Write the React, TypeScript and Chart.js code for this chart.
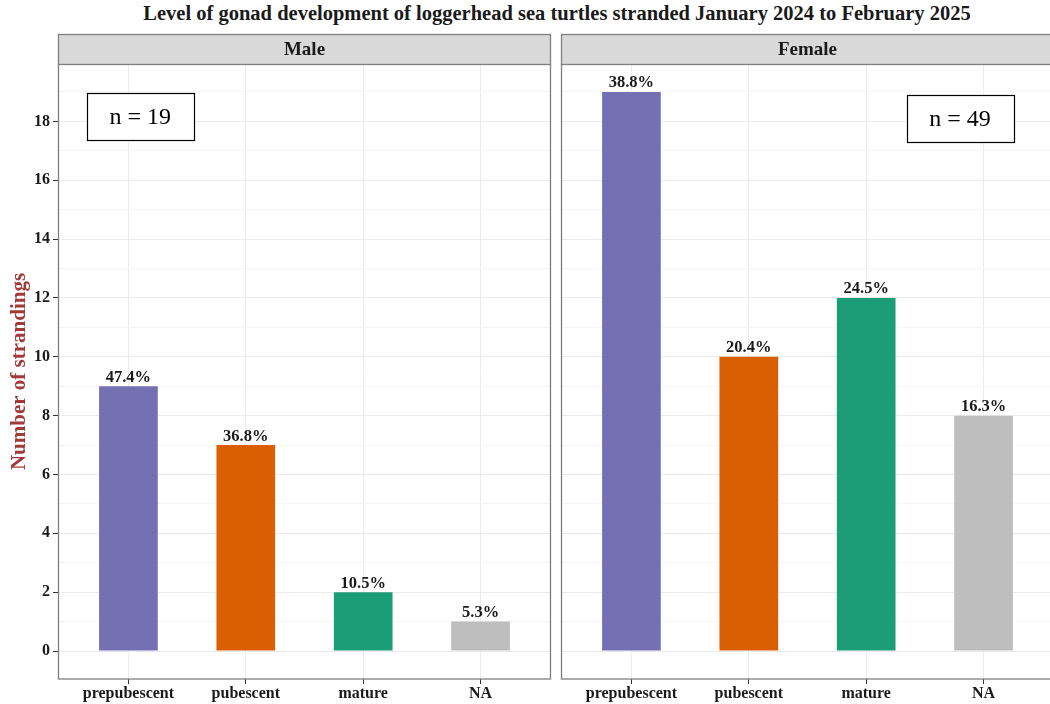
import React, { useEffect, useRef } from 'react';
import { Chart, registerables } from 'chart.js';

Chart.register(...registerables);

// Gonad development stages and stranding counts per sex
const stages = ['prepubescent', 'pubescent', 'mature', 'NA'];
const maleCounts = [9, 7, 2, 1];
const femaleCounts = [19, 10, 12, 8];
const stageColors = ['#7570B3', '#D95F02', '#1B9E77', '#BEBEBE'];

const FONT = "'Liberation Serif', 'Times New Roman', serif";
const TITLE = 'Level of gonad development of loggerhead sea turtles stranded January 2024 to February 2025';
const STRIP_TOP = 34;

type PanelCfg = {
  name: string;
  counts: number[];
  boxAt: [number, number];
  showY: boolean;
};

const pctLabels = (counts: number[]) => {
  const total = counts.reduce((s, v) => s + v, 0);
  return counts.map((c) => ((c / total) * 100).toFixed(1) + '%');
};

const facetPlugin = (cfg: PanelCfg) => {
  const labels = pctLabels(cfg.counts);
  const total = cfg.counts.reduce((s, v) => s + v, 0);
  return {
    id: 'facet',
    afterDatasetsDraw(chart: any) {
      const { ctx, scales } = chart;
      ctx.save();
      // percentage labels above bars
      ctx.font = `bold 16.5px ${FONT}`;
      ctx.fillStyle = '#1a1a1a';
      ctx.textAlign = 'center';
      ctx.textBaseline = 'bottom';
      chart.getDatasetMeta(0).data.forEach((bar: any, i: number) => {
        ctx.fillText(labels[i], bar.x, bar.y - 0.5);
      });
      // sample size box
      const cx = scales.x.getPixelForValue(cfg.boxAt[0]);
      const cy = scales.y.getPixelForValue(cfg.boxAt[1]);
      const bw = 107;
      const bh = 47;
      ctx.fillStyle = '#ffffff';
      ctx.fillRect(cx - bw / 2, cy - bh / 2, bw, bh);
      ctx.strokeStyle = '#000000';
      ctx.lineWidth = 1.2;
      ctx.strokeRect(Math.round(cx - bw / 2) + 0.5, Math.round(cy - bh / 2) + 0.5, bw, bh);
      ctx.fillStyle = '#000000';
      ctx.font = `24px ${FONT}`;
      ctx.textBaseline = 'middle';
      ctx.fillText(`n = ${total}`, cx, cy + 1);
      ctx.restore();
    },
    afterDraw(chart: any) {
      const { ctx, chartArea: a } = chart;
      ctx.save();
      // panel frame
      ctx.strokeStyle = '#7F7F7F';
      ctx.lineWidth = 1.3;
      ctx.strokeRect(a.left + 0.5, a.top, a.right - a.left - 1, a.bottom - a.top);
      // facet strip
      ctx.fillStyle = '#D9D9D9';
      ctx.fillRect(a.left, STRIP_TOP, a.right - a.left, a.top - STRIP_TOP);
      ctx.strokeRect(a.left + 0.5, STRIP_TOP + 0.5, a.right - a.left - 1, a.top - STRIP_TOP);
      ctx.fillStyle = '#1a1a1a';
      ctx.font = `bold 19px ${FONT}`;
      ctx.textAlign = 'center';
      ctx.textBaseline = 'middle';
      ctx.fillText(cfg.name, (a.left + a.right) / 2, (STRIP_TOP + a.top) / 2 + 1);
      ctx.restore();
    },
  };
};

function Panel({ cfg, left, width, padLeft, padRight }: { cfg: PanelCfg; left: number; width: number; padLeft: number; padRight: number }) {
  const ref = useRef<HTMLCanvasElement>(null);
  useEffect(() => {
    if (!ref.current) return;
    const chart = new Chart(ref.current, {
      type: 'bar',
      data: {
        datasets: [
          {
            data: cfg.counts.map((c, i) => ({ x: i + 1, y: c })),
            backgroundColor: stageColors,
            borderWidth: 0,
            barPercentage: 0.5,
            categoryPercentage: 1,
          },
        ],
      },
      options: {
        responsive: false,
        animation: false,
        layout: { padding: { top: 64, left: padLeft, right: padRight, bottom: 0 } },
        plugins: { legend: { display: false }, tooltip: { enabled: false }, title: { display: false } },
        scales: {
          x: {
            type: 'linear',
            min: 0.4,
            max: 4.6,
            offset: false,
            border: { display: false },
            grid: { offset: false, color: '#EBEBEB', lineWidth: 1, tickLength: 5, tickColor: '#333333' },
            ticks: {
              stepSize: 1,
              includeBounds: false,
              autoSkip: false,
              maxRotation: 0,
              padding: 0,
              color: '#1a1a1a',
              font: { family: FONT, size: 16, weight: 'bold' },
              callback: (v: any) => stages[Number(v) - 1] ?? '',
            },
            afterFit: (s: any) => {
              s.height = 25;
            },
          },
          y: {
            type: 'linear',
            min: -0.95,
            max: 19.95,
            border: { display: false },
            grid: {
              color: (c: any) => (Math.round(c.tick?.value ?? 0) % 2 === 0 ? '#EBEBEB' : '#F6F6F6'),
              tickColor: (c: any) => (Math.round(c.tick?.value ?? 0) % 2 === 0 ? '#333333' : 'rgba(0,0,0,0)'),
              drawTicks: cfg.showY,
              tickLength: 5,
            },
            ticks: {
              display: cfg.showY,
              stepSize: 1,
              includeBounds: false,
              autoSkip: false,
              padding: 3,
              color: '#1a1a1a',
              font: { family: FONT, size: 16, weight: 'bold' },
              callback: (v: any) => (Math.round(Number(v)) % 2 === 0 ? String(v) : ''),
            },
            title: {
              display: cfg.showY,
              text: 'Number of strandings',
              color: '#A33A3A',
              padding: { top: 7, bottom: 2 },
              font: { family: FONT, size: 21, weight: 'bold' },
            },
            afterFit: (s: any) => {
              s.width = cfg.showY ? 58 - padLeft : 5 - padLeft;
            },
          },
        },
      },
      plugins: [facetPlugin(cfg)],
    });
    return () => chart.destroy();
  }, [cfg, padLeft, padRight]);
  return (
    <canvas
      ref={ref}
      width={width}
      height={704}
      style={{ position: 'absolute', left, top: 0, width, height: 704 }}
    />
  );
}

const malePanel: PanelCfg = { name: 'Male', counts: maleCounts, boxAt: [1.1, 18.15], showY: true };
const femalePanel: PanelCfg = { name: 'Female', counts: femaleCounts, boxAt: [3.8, 18.1], showY: false };

export default function App() {
  return (
    <div
      style={{
        position: 'absolute',
        left: 0,
        top: 0,
        width: 1050,
        height: 704,
        overflow: 'hidden',
        background: '#ffffff',
      }}
    >
      <div
        style={{
          position: 'absolute',
          left: 0,
          top: 2,
          width: 1114,
          textAlign: 'center',
          fontFamily: FONT,
          fontWeight: 'bold',
          fontSize: 20.5,
          color: '#1a1a1a',
          whiteSpace: 'nowrap',
        }}
      >
        {TITLE}
      </div>
      <Panel cfg={malePanel} left={0} width={556} padLeft={0} padRight={5} />
      <Panel cfg={femalePanel} left={556} width={499} padLeft={0} padRight={1} />
    </div>
  );
}
